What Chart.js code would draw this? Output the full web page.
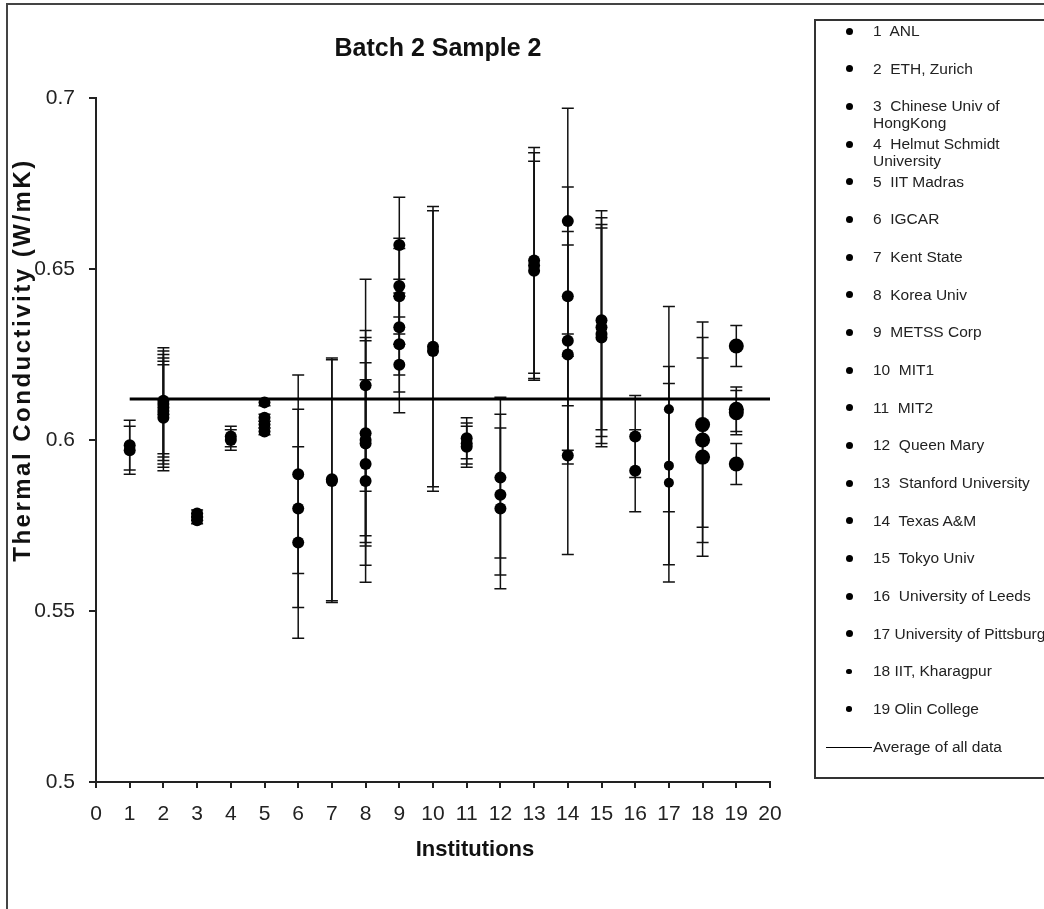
<!DOCTYPE html>
<html>
<head>
<meta charset="utf-8">
<script src="https://cdn.jsdelivr.net/npm/chart.js@4/dist/chart.umd.min.js"></script>
<style>
  html, body { margin: 0; padding: 0; background: #fff; overflow: hidden; }
  #wrap { position: relative; width: 1044px; height: 909px; overflow: hidden; }
  #frame { position: absolute; left: 6px; top: 3px; width: 1200px; height: 1100px; border: 2px solid #444; }
  #chart { position: absolute; left: 0; top: 0; }
  #legend { position: absolute; left: 814px; top: 19px; width: 300px; height: 756px; border: 2px solid #333;
            font-family: 'Liberation Sans', Arial, sans-serif; font-size: 15.5px; color: #222; }
  .row { position: absolute; left: 0; white-space: pre; line-height: 17px; }
  .dot { position: absolute; background: #000; border-radius: 50%; }
  .txt { position: absolute; left: 57px; top: 0; }
  .avg { position: absolute; left: 10px; width: 46px; height: 0; border-top: 1.5px solid #000; }
</style>
</head>
<body>
<div id="wrap">
  <div id="frame"></div>
  <canvas id="chart" width="1044" height="909"></canvas>
  <div id="legend"></div>
</div>
<script>
(function() {
  // institutions (legend text, \n = wrapped line)
  const institutions = [
    '1  ANL', '2  ETH, Zurich', '3  Chinese Univ of\nHongKong', '4  Helmut Schmidt\nUniversity',
    '5  IIT Madras', '6  IGCAR', '7  Kent State', '8  Korea Univ', '9  METSS Corp', '10  MIT1',
    '11  MIT2', '12  Queen Mary', '13  Stanford University', '14  Texas A&M', '15  Tokyo Univ',
    '16  University of Leeds', '17 University of Pittsburgh', '18 IIT, Kharagpur', '19 Olin College'
  ];

  // measured thermal conductivity (W/mK), one list per institution
  const conductivity = [
    [0.5985, 0.597],
    [0.6115, 0.6105, 0.6095, 0.6085, 0.6075, 0.6065],
    [0.5785, 0.5775, 0.5765],
    [0.601, 0.600],
    [0.611, 0.6065, 0.6045, 0.6025],
    [0.590, 0.580, 0.570],
    [0.5885, 0.588],
    [0.616, 0.602, 0.600, 0.599, 0.593, 0.588],
    [0.657, 0.645, 0.642, 0.633, 0.628, 0.622],
    [0.6273, 0.626],
    [0.6005, 0.599, 0.598],
    [0.589, 0.584, 0.580],
    [0.6525, 0.651, 0.6495],
    [0.664, 0.642, 0.629, 0.625, 0.5955],
    [0.635, 0.633, 0.631, 0.630],
    [0.601, 0.591],
    [0.609, 0.5925, 0.5875],
    [0.6045, 0.600, 0.595],
    [0.6275, 0.609, 0.608, 0.593]
  ];

  // +/- error for each measurement
  const errors = [
    [0.0073, 0.0070],
    [0.0155, 0.0155, 0.0155, 0.0155, 0.0155, 0.0155],
    [0.001, 0.001, 0.001],
    [0.003, 0.003],
    [0.001, 0.001, 0.001, 0.001],
    [0.029, 0.029, 0.028],
    [0.0355, 0.0355],
    [0.031, 0.030, 0.030, 0.030, 0.0296, 0.0296],
    [0.014, 0.014, 0.014, 0.014, 0.014, 0.014],
    [0.041, 0.041],
    [0.006, 0.006, 0.006],
    [0.0235, 0.0235, 0.0235],
    [0.033, 0.033, 0.032],
    [0.033, 0.032, 0.032, 0.032, 0.029],
    [0.032, 0.032, 0.032, 0.032],
    [0.012, 0.012],
    [0.030, 0.029, 0.029],
    [0.030, 0.030, 0.029],
    [0.006, 0.0065, 0.0065, 0.006]
  ];

  const averageAll = 0.612;
  const averageRange = [1, 20];
  const avgLabel = 'Average of all data';

  const yTickValues = [0.5, 0.55, 0.6, 0.65, 0.7];
  const yTickLabels = ['0.5', '0.55', '0.6', '0.65', '0.7'];

  // marker radius per institution (style only)
  const markerRadius = [6, 6, 6, 6, 6, 6, 6, 6, 6, 6, 6, 6, 6, 6, 6, 6, 5, 7.5, 7.5];
  const legendDot = [3.5, 3.5, 3.5, 3.5, 3.5, 3.5, 3.5, 3.5, 3.5, 3.5, 3.5, 3.5, 3.5, 3.5, 3.5, 3.5, 3.5, 2.8, 2.8];

  const FONT = "'Liberation Sans', Arial, sans-serif";

  let datasets = conductivity.map(function(vals, i) {
    return {
      label: institutions[i],
      data: vals.map(v => ({ x: i + 1, y: v })),
      errors: errors[i],
      backgroundColor: '#000',
      borderColor: '#000',
      pointRadius: markerRadius[i],
      pointHoverRadius: markerRadius[i],
      pointBorderWidth: 0
    };
  });
  datasets.push({
    label: avgLabel,
    data: averageRange.map(x => ({ x: x, y: averageAll })),
    showLine: true,
    borderColor: '#000',
    borderWidth: 3,
    pointRadius: 0
  });

  const errorBars = {
    id: 'errorBars',
    beforeDatasetsDraw(chart) {
      const ctx = chart.ctx, xs = chart.scales.x, ys = chart.scales.y;
      ctx.save();
      ctx.strokeStyle = '#111';
      ctx.lineWidth = 1.5;
      chart.data.datasets.forEach(function(ds) {
        if (!ds.errors) return;
        ds.data.forEach(function(p, j) {
          const px = xs.getPixelForValue(p.x);
          const top = ys.getPixelForValue(p.y + ds.errors[j]);
          const bot = ys.getPixelForValue(p.y - ds.errors[j]);
          ctx.beginPath();
          ctx.moveTo(px, top); ctx.lineTo(px, bot);
          ctx.moveTo(px - 6, top); ctx.lineTo(px + 6, top);
          ctx.moveTo(px - 6, bot); ctx.lineTo(px + 6, bot);
          ctx.stroke();
        });
      });
      ctx.restore();
    }
  };

  // titles are placed off-centre like the original, so draw them here
  const titles = {
    id: 'titles',
    afterDraw(chart) {
      const ctx = chart.ctx, a = chart.chartArea;
      ctx.save();
      ctx.fillStyle = '#111';
      ctx.textAlign = 'center';
      ctx.textBaseline = 'middle';
      ctx.font = 'bold 25px ' + FONT;
      ctx.fillText('Batch 2 Sample 2', (a.left + a.right) / 2 + 5, a.top - 49);
      ctx.font = 'bold 22px ' + FONT;
      ctx.fillText('Institutions', (a.left + a.right) / 2 + 42, a.bottom + 68);
      ctx.translate(23, (a.top + a.bottom) / 2 - 80);
      ctx.rotate(-Math.PI / 2);
      ctx.font = 'bold 24px ' + FONT;
      ctx.letterSpacing = '2.5px';
      ctx.fillText('Thermal Conductivity (W/mK)', 0, 0);
      ctx.restore();
    }
  };

  new Chart(document.getElementById('chart').getContext('2d'), {
    type: 'scatter',
    data: { datasets: datasets },
    options: {
      responsive: false,
      animation: false,
      layout: { padding: { top: 98, right: 274, bottom: 0, left: 0 } },
      plugins: { legend: { display: false }, tooltip: { enabled: false } },
      scales: {
        x: {
          type: 'linear', min: 0, max: 20,
          afterFit: function(scale) { scale.height = 127; },
          ticks: { stepSize: 1, padding: 14, color: '#222', font: { family: FONT, size: 21 } },
          grid: { drawOnChartArea: false, drawTicks: true, tickLength: 6, color: '#222', lineWidth: 2 },
          border: { color: '#222', width: 2 }
        },
        y: {
          type: 'linear', min: 0.5, max: 0.7,
          afterFit: function(scale) { scale.width = 96; },
          afterBuildTicks: function(scale) { scale.ticks = yTickValues.map(v => ({ value: v })); },
          ticks: {
            padding: 14, color: '#222', font: { family: FONT, size: 21 },
            callback: function(value, index) { return yTickLabels[index]; }
          },
          grid: { drawOnChartArea: false, drawTicks: true, tickLength: 7, color: '#222', lineWidth: 2 },
          border: { color: '#222', width: 2 }
        }
      }
    },
    plugins: [errorBars, titles]
  });

  // html legend built from the same names
  const legend = document.getElementById('legend');
  const step = 37.67, first = 10;
  institutions.forEach(function(name, i) {
    const row = document.createElement('div');
    row.className = 'row';
    row.style.top = (first + step * i - 9) + 'px';
    const dot = document.createElement('div');
    dot.className = 'dot';
    const r = legendDot[i];
    dot.style.width = dot.style.height = (2 * r) + 'px';
    dot.style.left = (33 - r) + 'px';
    dot.style.top = (9 - r) + 'px';
    const txt = document.createElement('div');
    txt.className = 'txt';
    txt.textContent = name;
    row.appendChild(dot);
    row.appendChild(txt);
    legend.appendChild(row);
  });
  const avgRow = document.createElement('div');
  avgRow.className = 'row';
  avgRow.style.top = (first + step * institutions.length - 9) + 'px';
  avgRow.innerHTML = '<div class="avg" style="top:9px"></div><div class="txt"></div>';
  avgRow.querySelector('.txt').textContent = avgLabel;
  legend.appendChild(avgRow);
})();
</script>
</body>
</html>
